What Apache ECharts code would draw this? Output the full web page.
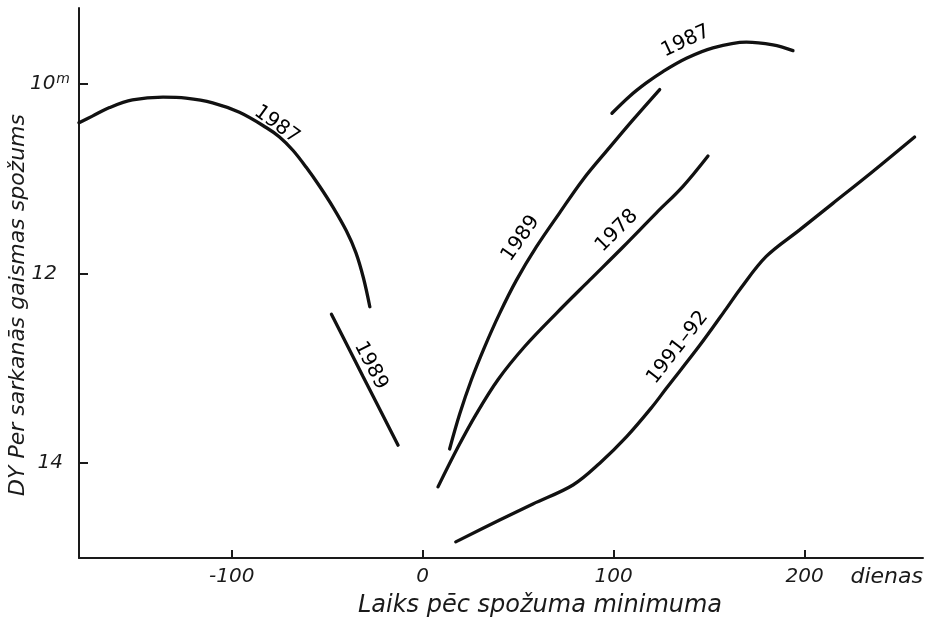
<!DOCTYPE html>
<html>
<head>
<meta charset="utf-8">
<script src="https://cdn.jsdelivr.net/npm/echarts@6/dist/echarts.min.js"></script>
<style>
html,body{margin:0;padding:0;background:#fff;}
#chart{width:926px;height:620px;}
</style>
</head>
<body>
<div id="chart"></div>
<script>
// x: days after brightness minimum, y: red-light magnitude
const xTicks = [-100, 0, 100, 200];
const yTicks = [10, 12, 14];

const curve1987a = [[-180,10.41],[-173,10.34],[-164,10.25],[-152,10.17],[-136,10.14],[-124,10.15],[-110,10.20],[-96,10.30],[-82,10.46],[-75,10.56],[-68,10.70],[-61,10.88],[-54,11.08],[-47,11.30],[-40,11.55],[-35,11.78],[-31,12.05],[-27.7,12.35]];
const curve1989a = [[-47.8,12.43],[-31.4,13.08],[-12.9,13.81]];
const curve1989b = [[14.1,13.85],[19.4,13.48],[25.5,13.12],[32.5,12.77],[40.3,12.42],[49.1,12.07],[59.5,11.72],[71.7,11.36],[83.9,11.01],[97.9,10.67],[110.1,10.38],[124.1,10.06]];
const curve1978 = [[8.0,14.25],[18.5,13.83],[28.1,13.48],[39.4,13.12],[53.4,12.77],[70.0,12.42],[87.4,12.07],[104.9,11.72],[122.4,11.36],[136.3,11.08],[149.4,10.76]];
const curve1991 = [[17.3,14.83],[40.3,14.60],[57.7,14.43],[78.7,14.23],[92.7,14.00],[106.8,13.72],[120.4,13.40],[127.6,13.21],[145.0,12.76],[159.0,12.37],[166.0,12.17],[179.9,11.82],[197.4,11.54],[214.8,11.26],[232.3,10.98],[257.6,10.56]];
const curve1987b = [[99.1,10.31],[108.4,10.13],[117.1,9.99],[125.8,9.87],[138.1,9.73],[152,9.62],[169.5,9.56],[183.4,9.59],[193.9,9.65]];

const labelTexts = ['1987','1989','1989','1978','1991–92','1987'];
const labelX = [-76.4,-27.2,51.3,101.7,133.5,137.7];
const labelY = [10.43,12.97,11.63,11.55,12.78,9.55];
const labelAngles = [-36,-63,55,45,52,25];

const ink = '#1a1a1a';
const font = 'DejaVu Sans';

function curve(name, data) {
  return {
    name: name, type: 'line', data: data, smooth: 0.35,
    showSymbol: false, symbol: 'none',
    lineStyle: {color: '#111', width: 3.3, cap: 'round'},
    silent: true, animation: false
  };
}

const labelData = labelTexts.map((t, i) => ({
  value: [labelX[i], labelY[i]],
  label: {show: true, formatter: t, rotate: labelAngles[i], position: 'inside',
          color: '#000', opacity: 1, fontSize: 20, fontFamily: font, textBorderWidth: 0}
}));

const yRich = {
  n: {fontSize: 20, fontStyle: 'italic', fontFamily: font, color: ink, lineHeight: 24},
  s: {fontSize: 14, fontStyle: 'italic', fontFamily: font, color: ink, verticalAlign: 'top', lineHeight: 14, padding: [0, 0, 6, 1]},
  a: {fontSize: 20, fontStyle: 'italic', fontFamily: font, color: ink, lineHeight: 24, padding: [0, 13, 0, 0]},
  b: {fontSize: 20, fontStyle: 'italic', fontFamily: font, color: ink, lineHeight: 24, padding: [0, 7, 0, 0]}
};

const chart = echarts.init(document.getElementById('chart'), null, {renderer: 'canvas'});
chart.setOption({
  backgroundColor: '#fff',
  animation: false,
  grid: {left: 79, right: 3, top: 8, bottom: 62, containLabel: false, outerBoundsMode: 'none'},
  xAxis: {
    type: 'value', min: -180, max: 262,
    axisLine: {show: true, onZero: false, lineStyle: {color: ink, width: 2}},
    axisTick: {show: true, inside: true, length: 8, customValues: xTicks, lineStyle: {color: ink, width: 2}},
    axisLabel: {customValues: xTicks, margin: 9, fontSize: 20, fontStyle: 'italic', fontFamily: font, color: ink},
    splitLine: {show: false},
    name: 'Laiks pēc spožuma minimuma', nameLocation: 'middle', nameGap: 36, nameMoveOverlap: false,
    nameTextStyle: {fontSize: 24, fontStyle: 'italic', fontFamily: font, color: ink, verticalAlign: 'top', padding: [0, 0, 0, 78]}
  },
  yAxis: {
    type: 'value', inverse: true, min: 9.2, max: 15.0,
    axisLine: {show: true, onZero: false, lineStyle: {color: ink, width: 2}},
    axisTick: {show: true, inside: true, length: 9, customValues: yTicks, lineStyle: {color: ink, width: 2}},
    axisLabel: {
      customValues: yTicks, margin: 9, color: ink,
      formatter: v => v === 10 ? '{n|10}{s|m}' : (v === 12 ? '{a|12}' : '{b|' + v + '}'),
      rich: yRich
    },
    splitLine: {show: false},
    name: 'DY Per sarkanās gaismas spožums', nameLocation: 'middle', nameRotate: 90, nameGap: 50, nameMoveOverlap: false,
    nameTextStyle: {fontSize: 22, fontStyle: 'italic', fontFamily: font, color: ink, padding: [0, 44, 0, 0]}
  },
  graphic: [{
    type: 'text', right: 3, top: 566,
    style: {text: 'dienas', font: 'italic 22px "DejaVu Sans"', fill: ink}
  }],
  series: [
    curve('1987 (pirms)', curve1987a),
    curve('1989 (pirms)', curve1989a),
    curve('1989', curve1989b),
    curve('1978', curve1978),
    curve('1991–92', curve1991),
    curve('1987', curve1987b),
    {
      name: 'labels', type: 'scatter', data: labelData, symbol: 'circle', symbolSize: 0,
      itemStyle: {color: '#000'}, silent: true, animation: false
    }
  ]
});
</script>
</body>
</html>
